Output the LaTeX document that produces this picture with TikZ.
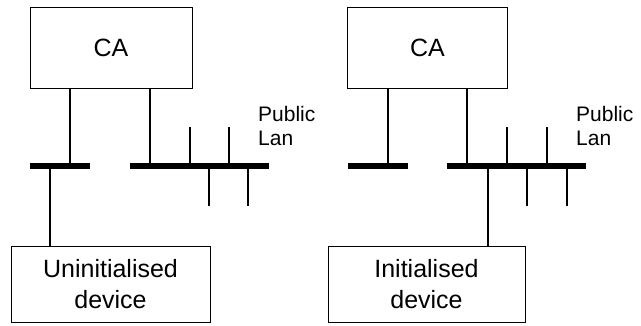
\documentclass[tikz,border=0pt]{standalone}
\usepackage{fontspec}
\setmainfont{Liberation Sans}
\tikzset{
  unit/.style={draw, line width=0.9pt, rectangle, align=center,
    font=\fontsize{25}{31}\selectfont},
  lan/.style={line width=6pt},
  tap/.style={line width=1.3pt},
  lanlabel/.style={anchor=west, align=left, inner sep=0pt,
    font=\fontsize{21}{24.5}\selectfont}
}
\begin{document}
\begin{tikzpicture}[x=1pt,y=-1pt]
    \useasboundingbox (0,0) rectangle (641,326);
    % left: uninitialised device
    \node[unit, minimum width=162pt, minimum height=81pt] (CA1) at (111,47.5) {CA};
    \node[unit, minimum width=199pt, minimum height=76pt] (D1) at (110.5,284) {Uninitialised\\device};
    \coordinate (A1) at (30,166);
    \coordinate (B1) at (90,166);
    \coordinate (C1) at (130,166);
    \coordinate (E1) at (269,166);
    \draw[lan] (A1)--(B1);
    \draw[lan] (C1)--(E1);
    \draw[tap] (70,0 |- CA1.south)--(70,166);
    \draw[tap] (150,0 |- CA1.south)--(150,166);
    \draw[tap] (50,166)--(50,0 |- D1.north);
    \draw[tap] (190,127)--(190,166);
    \draw[tap] (229,127)--(229,166);
    \draw[tap] (209,166)--(209,206);
    \draw[tap] (248,166)--(248,206);
    \node[lanlabel] (L1) at (258,126) {Public\\Lan};
    % right: initialised device
    \node[unit, minimum width=160pt, minimum height=81pt] (CA2) at (427.5,47.5) {CA};
    \node[unit, minimum width=197pt, minimum height=76pt] (D2) at (426.5,284) {Initialised\\device};
    \coordinate (A2) at (348,166);
    \coordinate (B2) at (408,166);
    \coordinate (C2) at (447,166);
    \coordinate (E2) at (586,166);
    \draw[lan] (A2)--(B2);
    \draw[lan] (C2)--(E2);
    \draw[tap] (388,0 |- CA2.south)--(388,166);
    \draw[tap] (467,0 |- CA2.south)--(467,166);
    \draw[tap] (488,166)--(488,0 |- D2.north);
    \draw[tap] (507,127)--(507,166);
    \draw[tap] (547,127)--(547,166);
    \draw[tap] (527,166)--(527,206);
    \draw[tap] (567,166)--(567,206);
    \node[lanlabel] (L2) at (576,126) {Public\\Lan};
\end{tikzpicture}
\end{document}
